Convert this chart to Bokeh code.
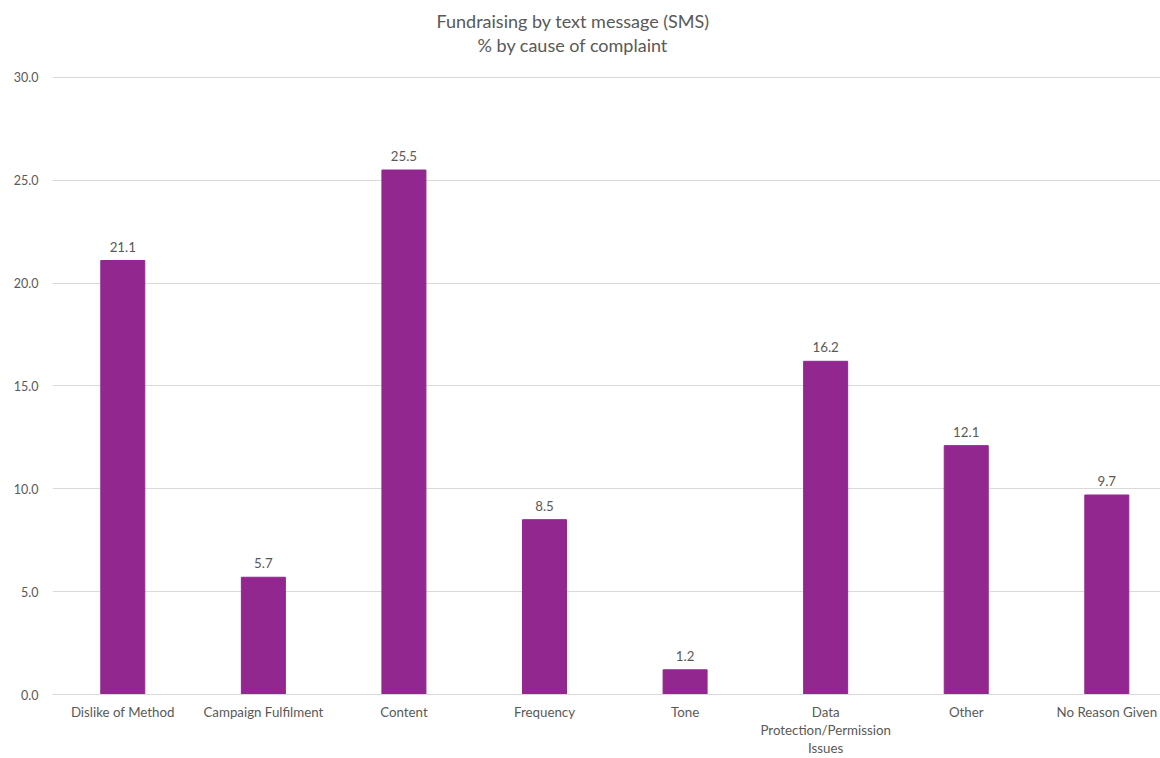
from bokeh.plotting import figure
from bokeh.models import Range1d, FixedTicker, PrintfTickFormatter, ColumnDataSource, Title
from bokeh.core.properties import value
from bokeh.embed import file_html
from bokeh.resources import INLINE

title_lines = ["Fundraising by text message (SMS)", "% by cause of complaint"]
categories = ["Dislike of Method", "Campaign Fulfilment", "Content", "Frequency",
              "Tone", "Data\nProtection/Permission\nIssues", "Other", "No Reason Given"]
values = [21.1, 5.7, 25.5, 8.5, 1.2, 16.2, 12.1, 9.7]
y_ticks = [0, 5, 10, 15, 20, 25, 30]

FONT = "Lato"
TXT = "#595959"
BAR = "#92278F"
GRID = "#D9D9D9"

W, H = 1160, 758
LEFT, TOP, BOTTOM = 52, 56, 63
PX_PER_UNIT = 618 / 30
X0, X1 = -0.5, 7.382
Y0, Y1 = 0, (H - TOP - BOTTOM) / PX_PER_UNIT

idx = list(range(len(categories)))
src = ColumnDataSource(dict(x=idx, top=values, label=[f"{v:.1f}" for v in values]))

p = figure(width=W, height=H, output_backend="svg", toolbar_location=None, title=None,
           x_range=Range1d(X0, X1), y_range=Range1d(Y0, Y1),
           min_border_left=LEFT, min_border_right=0, min_border_top=TOP,
           min_border_bottom=BOTTOM)

p.vbar(x="x", top="top", width=0.313, source=src, color=BAR)
p.text(x="x", y="top", text="label", source=src, text_align="center",
       text_baseline="alphabetic", y_offset=-14, text_font=value(FONT),
       text_font_size="13.3px", text_color=TXT)

# two centred title lines; the second is nearest the plot frame
for line, offset in [(title_lines[1], 425), (title_lines[0], 384)]:
    p.add_layout(Title(text=line, align="left", offset=offset, vertical_align="middle",
                       standoff=0, text_font=FONT, text_font_size="18px",
                       text_font_style="normal", text_color=TXT), "above")

p.xgrid.visible = False
p.ygrid.grid_line_color = GRID
p.ygrid.ticker = FixedTicker(ticks=y_ticks)

p.yaxis.ticker = FixedTicker(ticks=y_ticks)
p.yaxis.formatter = PrintfTickFormatter(format="%.1f")
p.yaxis.axis_line_color = None
p.yaxis.major_tick_line_color = None
p.yaxis.minor_tick_line_color = None
p.yaxis.major_tick_out = 0
p.yaxis.major_label_standoff = 14
p.yaxis.major_label_text_font = FONT
p.yaxis.major_label_text_font_size = "12.5px"
p.yaxis.major_label_text_color = TXT

p.xaxis.ticker = FixedTicker(ticks=idx)
p.xaxis.major_label_overrides = {i: c for i, c in zip(idx, categories)}
p.xaxis.axis_line_color = GRID
p.xaxis.major_tick_line_color = None
p.xaxis.minor_tick_line_color = None
p.xaxis.major_tick_out = 0
p.xaxis.major_label_standoff = 9
p.xaxis.major_label_text_font = FONT
p.xaxis.major_label_text_font_size = "13.3px"
p.xaxis.major_label_text_color = TXT
p.xaxis.major_label_text_line_height = 1.125

p.outline_line_color = None

open("out.html", "w").write(file_html(p, INLINE))
